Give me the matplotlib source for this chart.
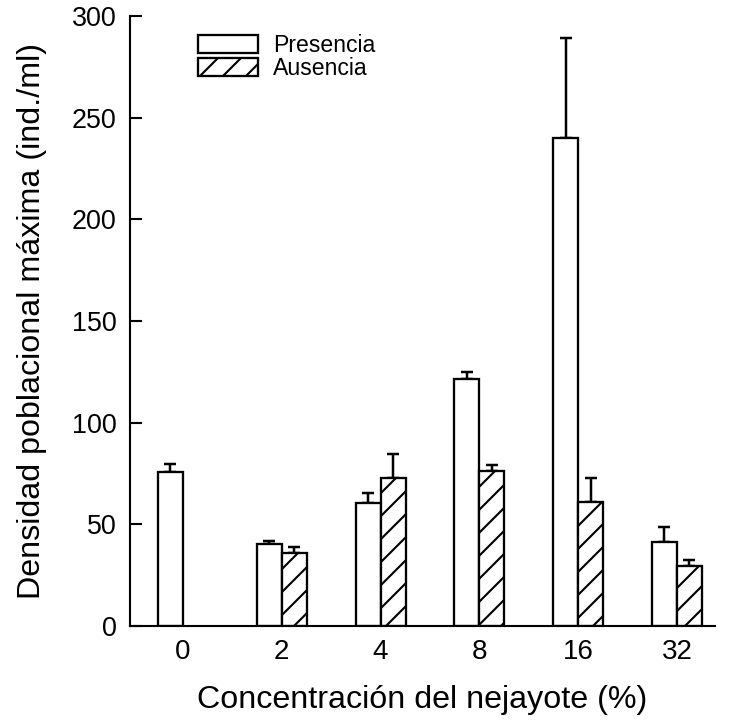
import numpy as np
import matplotlib
matplotlib.use("Agg")
import matplotlib.pyplot as plt

categories = ["0", "2", "4", "8", "16", "32"]
presencia = [75.7, 40.3, 60.5, 121.3, 240.2, 41.2]
presencia_err = [4.0, 1.6, 5.0, 3.5, 49.0, 7.7]
ausencia = [0.0, 36.0, 72.8, 76.2, 60.8, 29.5]
ausencia_err = [0.0, 3.0, 12.0, 3.0, 12.0, 3.0]
yticks = [0, 50, 100, 150, 200, 250, 300]

DPI = 138
plt.rcParams['font.family'] = ['Liberation Sans', 'DejaVu Sans']
plt.rcParams['hatch.linewidth'] = 1.1

fig = plt.figure(figsize=(732 / DPI, 720 / DPI), dpi=DPI)
ax = fig.add_axes([130 / 732, 94 / 720, (715 - 130) / 732, (626 - 16) / 720])

x = np.arange(len(categories))
w = 0.253
lw = 1.2

# presence bars (left of group center)
ax.bar(x - w / 2, presencia, width=w, color="white", edgecolor="black",
       linewidth=lw, label="Presencia", zorder=2)
ax.errorbar(x - w / 2, presencia, yerr=[np.zeros(len(presencia)), presencia_err],
            fmt="none", ecolor="black", elinewidth=1.3, capsize=3.2, capthick=1.3, zorder=1)

# absence bars (right of group center), skip zero
idx = [i for i, v in enumerate(ausencia) if v > 0]
ax.bar(x[idx] + w / 2, [ausencia[i] for i in idx], width=w, color="white",
       edgecolor="black", hatch="//", linewidth=lw, label="Ausencia", zorder=2)
ax.errorbar(x[idx] + w / 2, [ausencia[i] for i in idx],
            yerr=[np.zeros(len(idx)), [ausencia_err[i] for i in idx]],
            fmt="none", ecolor="black", elinewidth=1.3, capsize=3.2, capthick=1.3, zorder=1)

ax.set_xlim(-0.536, 5.385)
ax.set_ylim(0, 300)
ax.set_yticks(yticks)
ax.set_xticks(x)
ax.set_xticklabels(categories)
ax.tick_params(axis="y", direction="in", length=6, width=1.1, pad=7, labelsize=14)
ax.tick_params(axis="x", length=0, pad=7, labelsize=14.5)
for s in ["top", "right"]:
    ax.spines[s].set_visible(False)
for s in ["left", "bottom"]:
    ax.spines[s].set_linewidth(1.1)

ax.set_xlabel("Concentración del nejayote (%)", fontsize=16.8, labelpad=10)
ax.set_ylabel("Densidad poblacional máxima (ind./ml)", fontsize=16.8, labelpad=13)

fig.legend(loc="upper left", bbox_to_anchor=(198 / 732, 1 - 34 / 720),
           frameon=False, fontsize=12, borderpad=0, borderaxespad=0,
           handlelength=2.6, handleheight=0.8, labelspacing=0.0, handletextpad=0.65)

fig.savefig("out.png", dpi=DPI)
